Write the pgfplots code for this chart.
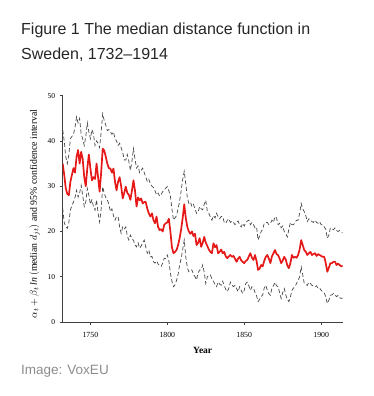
\documentclass[border=0pt]{standalone}
\usepackage{fontspec}
\setmainfont{Liberation Serif}
\newfontfamily\sansfont{Liberation Sans}
\usepackage{pgfplots}
\usepackage{pgfplotstable}
\pgfplotsset{compat=1.18}
\definecolor{medred}{RGB}{230,25,25}
\definecolor{cigray}{RGB}{70,70,70}
\definecolor{srcgray}{RGB}{140,140,140}

\pgfplotstableread{
year med up lo
1732 35.0 42.4 25.1
1733 32.5 40.0 22.0
1734 29.5 36.5 21.0
1735 28.3 35.0 20.7
1736 28.0 37.0 22.0
1737 31.0 40.5 24.7
1738 32.5 41.0 25.8
1739 34.0 41.5 26.5
1740 33.0 43.0 27.5
1741 36.5 45.3 29.1
1742 38.0 44.0 27.6
1743 35.0 45.0 28.5
1744 37.6 41.5 30.2
1745 36.0 40.5 28.0
1746 32.0 39.0 25.5
1747 30.0 41.0 26.5
1748 34.0 44.0 29.5
1749 37.0 42.0 28.0
1750 34.0 40.5 26.0
1751 31.3 42.5 27.0
1752 32.0 41.5 25.5
1753 31.6 39.0 24.7
1754 35.0 40.0 27.0
1755 32.0 39.5 24.0
1756 28.8 38.5 22.1
1757 33.0 42.0 25.0
1758 38.3 46.0 29.9
1759 37.9 44.5 28.4
1760 36.5 43.5 27.5
1761 35.0 42.3 27.0
1762 34.0 42.5 26.0
1763 33.9 42.0 24.4
1764 33.0 41.5 25.0
1765 33.9 42.0 23.5
1766 31.0 40.5 22.5
1767 29.1 40.0 23.3
1768 31.0 39.0 23.3
1769 32.0 39.5 21.0
1770 30.0 38.5 19.6
1771 27.3 37.5 21.0
1772 28.5 35.8 20.5
1773 29.9 35.8 21.0
1774 28.5 37.0 19.0
1775 28.1 35.5 18.1
1776 27.0 33.5 19.2
1777 29.0 35.5 18.5
1778 31.3 38.3 18.0
1779 29.0 36.0 17.0
1780 25.5 34.0 16.6
1781 27.5 34.5 17.5
1782 26.9 33.0 16.3
1783 27.3 33.5 16.8
1784 26.2 34.0 17.5
1785 26.5 33.0 18.1
1786 26.5 32.0 16.5
1787 25.0 31.0 15.2
1788 24.0 31.5 15.9
1789 23.3 30.5 14.4
1790 24.0 30.0 14.5
1791 22.5 29.7 13.3
1792 21.8 29.0 13.0
1793 23.3 28.1 13.5
1794 21.0 28.5 12.8
1795 20.3 27.8 12.5
1796 20.5 28.2 12.3
1797 20.0 28.8 13.0
1798 21.5 29.2 14.1
1799 21.8 29.6 14.0
1800 22.0 29.9 14.8
1801 22.8 29.0 13.5
1802 20.0 27.8 10.8
1803 16.5 25.0 9.0
1804 15.2 22.5 7.8
1805 15.5 23.0 8.2
1806 15.9 23.5 9.2
1807 17.0 25.0 10.5
1808 18.5 26.7 12.6
1809 20.5 29.0 14.0
1810 23.0 31.5 16.0
1811 26.0 33.3 18.1
1812 23.0 30.5 14.4
1813 21.0 27.5 12.0
1814 20.0 26.2 11.1
1815 19.5 26.5 11.5
1816 20.0 25.5 11.5
1817 19.0 26.0 10.5
1818 19.5 25.0 10.0
1819 17.0 24.0 9.3
1820 17.5 24.3 10.8
1821 18.5 25.5 11.5
1822 16.6 25.0 11.5
1823 17.5 24.8 12.6
1824 18.8 26.0 11.0
1825 17.5 26.9 8.5
1826 16.8 24.5 10.0
1827 16.0 24.0 10.2
1828 15.5 23.2 10.4
1829 15.2 22.5 9.5
1830 17.4 23.5 9.0
1831 16.5 23.0 8.3
1832 17.0 24.0 7.8
1833 15.2 23.3 8.8
1834 15.5 22.8 8.4
1835 16.0 23.3 8.1
1836 15.2 23.3 9.0
1837 15.5 22.0 8.0
1838 14.5 21.8 7.2
1839 14.1 22.5 6.7
1840 14.5 22.8 7.5
1841 14.8 22.0 8.8
1842 14.4 22.3 8.2
1843 14.6 22.0 7.8
1844 14.0 21.5 8.1
1845 13.3 22.0 7.4
1846 14.0 22.3 6.7
1847 14.4 21.5 7.8
1848 13.6 21.0 7.0
1849 13.3 21.8 6.3
1850 13.0 21.2 7.0
1851 13.5 22.0 8.5
1852 13.7 22.3 8.8
1853 14.5 22.5 8.0
1854 15.2 21.5 7.0
1855 14.2 22.0 7.8
1856 13.7 21.5 7.5
1857 14.8 20.8 6.5
1858 13.5 21.0 5.8
1859 11.5 18.1 4.5
1860 11.8 19.0 5.0
1861 12.6 20.0 5.6
1862 12.3 20.5 6.0
1863 13.5 21.8 7.5
1864 14.4 22.0 8.1
1865 14.8 22.0 7.0
1866 14.0 21.5 6.3
1867 13.0 21.8 5.9
1868 14.5 22.5 7.5
1869 15.2 22.0 8.0
1870 15.9 23.3 8.8
1871 15.0 23.0 8.0
1872 14.8 21.5 7.8
1873 14.0 21.8 6.5
1874 13.0 20.8 5.2
1875 13.6 21.2 6.5
1876 14.4 20.0 7.4
1877 13.8 19.5 6.0
1878 12.5 18.8 5.0
1879 11.9 20.5 4.5
1880 13.0 22.0 5.5
1881 14.8 21.5 7.0
1882 14.2 21.5 7.5
1883 14.4 22.0 7.8
1884 14.2 22.5 8.5
1885 14.8 22.5 9.2
1886 16.0 24.0 10.0
1887 18.1 26.2 12.2
1888 17.0 25.0 10.5
1889 15.9 24.4 8.5
1890 15.5 23.5 8.3
1891 14.8 22.2 8.1
1892 15.2 22.8 8.8
1893 15.5 22.5 8.5
1894 14.8 22.2 8.1
1895 15.0 22.0 8.0
1896 15.2 22.5 7.8
1897 14.6 22.0 8.0
1898 15.0 21.8 7.4
1899 14.8 22.2 7.5
1900 14.6 21.5 7.0
1901 14.4 21.5 6.7
1902 14.4 21.0 6.5
1903 13.0 20.5 5.5
1904 11.1 18.5 4.1
1905 12.0 19.2 4.8
1906 13.0 20.8 5.9
1907 13.0 20.5 6.0
1908 13.3 20.4 6.3
1909 13.3 20.8 6.0
1910 12.6 20.2 5.6
1911 12.9 20.0 5.9
1912 12.6 20.2 5.4
1913 12.3 19.8 5.2
1914 12.4 19.8 5.3
}\datatable

\begin{document}
\begin{tikzpicture}[x=1pt,y=1pt]
\useasboundingbox (0,0) rectangle (374,396);
\node[anchor=base west, inner sep=0pt, font=\sansfont\fontsize{16}{20}\selectfont, text=black!85] at (21,361) {Figure 1 The median distance function in};
\node[anchor=base west, inner sep=0pt, font=\sansfont\fontsize{16}{20}\selectfont, text=black!85] at (21,336) {Sweden, 1732–1914};
\node[anchor=base west, inner sep=0pt, font=\sansfont\fontsize{13.5}{16}\selectfont, text=srcgray] at (21,21) {Image: VoxEU};
\begin{axis}[
  scale only axis, width=280pt, height=226.3pt,
  at={(62.7pt,74pt)}, anchor=south west,
  xmin=1732, xmax=1914, ymin=0, ymax=50,
  axis x line*=bottom, axis y line*=left,
  axis line style={black!75, line width=0.6pt},
  xtick={1750,1800,1850,1900}, ytick={0,10,20,30,40,50},
  tick style={black!75, line width=0.5pt},
  tick align=outside, major tick length=3pt,
  xticklabel style={font=\fontsize{7.8}{9}\selectfont, yshift=-4pt},
  yticklabel style={font=\fontsize{7.5}{9}\selectfont, xshift=-1pt},
  /pgf/number format/assume math mode=true,
  /pgf/number format/set thousands separator={},
  xlabel={\textbf{Year}}, xlabel style={font=\fontsize{9.5}{11}\selectfont, yshift=-3pt},
  ylabel={$\alpha_t+\beta_t\,\mathit{ln}\,(\mathrm{median}\ d_{jt})$ and 95\% confidence interval},
  ylabel style={font=\fontsize{9.8}{12}\selectfont, yshift=1pt, xshift=-5pt},
]
\addplot[cigray, line width=0.7pt, dash pattern=on 4pt off 2.5pt] table[x=year,y=up]{\datatable};
\addplot[cigray, line width=0.7pt, dash pattern=on 4pt off 2.5pt] table[x=year,y=lo]{\datatable};
\addplot[medred, line width=1.7pt, line join=round] table[x=year,y=med]{\datatable};
\end{axis}
\end{tikzpicture}
\end{document}
